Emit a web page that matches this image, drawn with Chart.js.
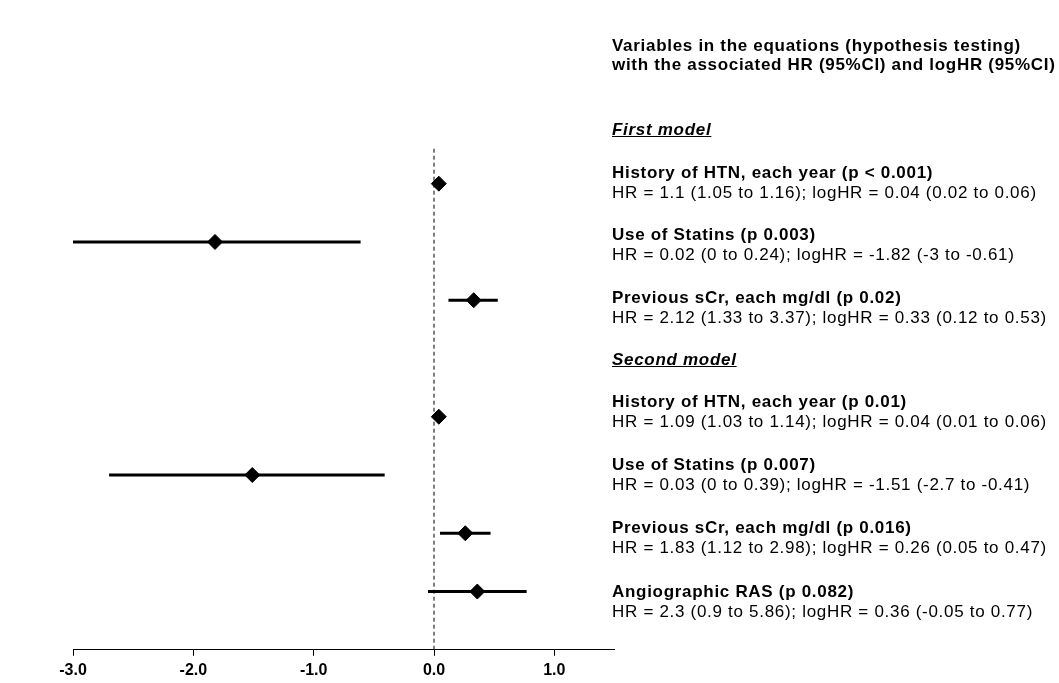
<!DOCTYPE html>
<html>
<head>
<meta charset="utf-8">
<script src="https://cdn.jsdelivr.net/npm/chart.js@4/dist/chart.umd.min.js"></script>
<style>
  body { margin: 0; background: #fff; width: 1059px; height: 683px; overflow: hidden; position: relative;
         font-family: "Liberation Sans", Arial, sans-serif; color: #000; }
  #wrap { position: absolute; left: 0; top: 0; width: 640px; height: 690px; }
  .t { position: absolute; left: 612px; white-space: nowrap; font-size: 17px; line-height: 20px; letter-spacing: 0.7px; }
  .b { font-weight: bold; }
  .h { font-weight: bold; font-style: italic; text-decoration: underline; }
</style>
</head>
<body>
<div id="wrap"><canvas id="forest"></canvas></div>
<div id="panel"></div>
<script>
// values (log hazard ratios with 95% CI)
const rowNames = [
  'History of HTN, each year (p < 0.001)',
  'Use of Statins (p 0.003)',
  'Previous sCr, each mg/dl (p 0.02)',
  'History of HTN, each year (p 0.01)',
  'Use of Statins (p 0.007)',
  'Previous sCr, each mg/dl (p 0.016)',
  'Angiographic RAS (p 0.082)'
];
const hrTexts = [
  'HR = 1.1 (1.05 to 1.16); logHR = 0.04 (0.02 to 0.06)',
  'HR = 0.02 (0 to 0.24); logHR = -1.82 (-3 to -0.61)',
  'HR = 2.12 (1.33 to 3.37); logHR = 0.33 (0.12 to 0.53)',
  'HR = 1.09 (1.03 to 1.14); logHR = 0.04 (0.01 to 0.06)',
  'HR = 0.03 (0 to 0.39); logHR = -1.51 (-2.7 to -0.41)',
  'HR = 1.83 (1.12 to 2.98); logHR = 0.26 (0.05 to 0.47)',
  'HR = 2.3 (0.9 to 5.86); logHR = 0.36 (-0.05 to 0.77)'
];
const logHR  = [0.04, -1.82, 0.33, 0.04, -1.51, 0.26, 0.36];
const ciLow  = [0.02, -3, 0.12, 0.01, -2.7, 0.05, -0.05];
const ciHigh = [0.06, -0.61, 0.53, 0.06, -0.41, 0.47, 0.77];
const rowPos = [1, 2, 3, 5, 6, 7, 8];   // row 4 is the "Second model" header
const modelNames = ['First model', 'Second model'];
const titleLines = ['Variables in the equations (hypothesis testing)',
                    'with the associated HR (95%CI) and logHR (95%CI)'];
const tickValues = [-3, -2, -1, 0, 1];

// right-hand text panel
const panel = document.getElementById('panel');
function addText(txt, cls, centerY) {
  const d = document.createElement('div');
  d.className = 't ' + cls;
  d.textContent = txt;
  d.style.top = (centerY - 10) + 'px';
  panel.appendChild(d);
}
const nameY = [173, 235, 298, 402, 465, 528, 592];
addText(titleLines[0], 'b', 46);
addText(titleLines[1], 'b', 65);
addText(modelNames[0], 'h', 130);
addText(modelNames[1], 'h', 360);
rowNames.forEach((n, i) => {
  addText(n, 'b', nameY[i]);
  addText(hrTexts[i], '', nameY[i] + 20);
});

// chart
const datasets = [];
datasets.push({
  type: 'line',
  data: [{ x: 0, y: 0.4 }, { x: 0, y: 9 }],
  borderColor: '#000', borderWidth: 1, borderDash: [4, 3],
  pointRadius: 0, order: 2
});
rowPos.forEach((r, i) => {
  datasets.push({
    type: 'line',
    data: [{ x: ciLow[i], y: r }, { x: ciHigh[i], y: r }],
    borderColor: '#000', borderWidth: 3,
    pointRadius: 0, order: 1
  });
});
datasets.push({
  type: 'scatter',
  data: rowPos.map((r, i) => ({ x: logHR[i], y: r })),
  pointStyle: 'rectRot', pointRadius: 7.5,
  backgroundColor: '#000', borderColor: '#000', borderWidth: 1,
  order: 0
});

new Chart(document.getElementById('forest'), {
  type: 'scatter',
  data: { datasets: datasets },
  options: {
    responsive: true,
    maintainAspectRatio: false,
    animation: false,
    layout: { padding: { left: 73, right: 25.5, top: 125.4, bottom: 5 } },
    plugins: { legend: { display: false }, tooltip: { enabled: false } },
    scales: {
      x: {
        type: 'linear', min: -3, max: 1.5,
        afterBuildTicks: s => { s.ticks = tickValues.map(v => ({ value: v })); },
        ticks: {
          callback: v => v.toFixed(1),
          color: '#000', padding: 5, maxRotation: 0, autoSkip: false,
          font: { family: '"Liberation Sans", Arial, sans-serif', size: 16, weight: 'bold' }
        },
        grid: { drawOnChartArea: false, drawTicks: true, tickLength: 6, color: '#000', tickColor: '#000' },
        border: { color: '#000', width: 1 }
      },
      y: { type: 'linear', reverse: true, min: 0, max: 9, display: false }
    }
  }
});
</script>
</body>
</html>
